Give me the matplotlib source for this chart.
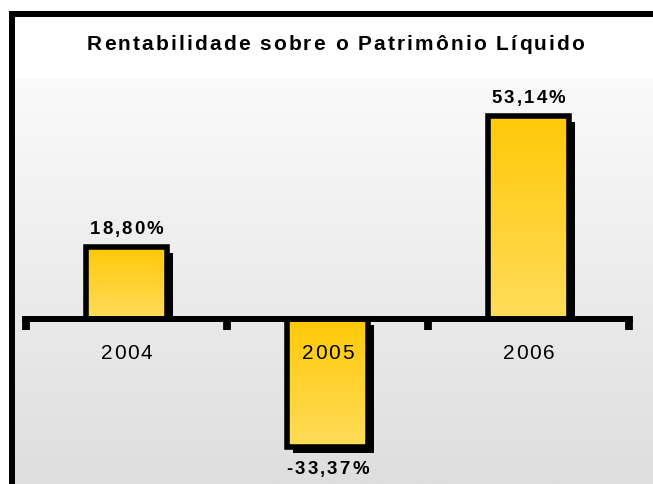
import numpy as np
import matplotlib
matplotlib.use("Agg")
import matplotlib.pyplot as plt
from matplotlib.colors import LinearSegmentedColormap
from matplotlib.font_manager import FontProperties
from matplotlib.lines import Line2D

plt.rcParams['font.family'] = ['Liberation Sans', 'DejaVu Sans']

# Return on equity per year (%)
years = ['2004', '2005', '2006']
values = [18.80, -33.37, 53.14]

W, H = 653, 485
fig = plt.figure(figsize=(W / 100, H / 100), dpi=100)
fig.patch.set_facecolor('white')
renderer = fig.canvas.get_renderer()


def spaced_text(x_px, y_px, s, size, weight='normal', track=2.0):
    # text centred on x_px with baseline at y_px (pixels from top), extra letter spacing
    fp = FontProperties(family=['Liberation Sans', 'DejaVu Sans'], size=size, weight=weight)

    def width(t):
        return renderer.get_text_width_height_descent(t, fp, ismath=False)[0]

    bar_w = width('|')
    pos = [0.0] + [width(s[:i] + '|') - bar_w for i in range(1, len(s))]
    total = width(s) + track * (len(s) - 1)
    x0 = x_px - total / 2
    for i, ch in enumerate(s):
        if ch == ' ':
            continue
        fig.text((x0 + pos[i] + i * track) / W, 1 - y_px / H, ch, fontproperties=fp,
                 ha='left', va='baseline', zorder=6)


# plot area in pixels: x 15..653, y 80..485 (from top)
ax = fig.add_axes([15 / W, 0, (W - 15) / W, (H - 80) / H])
ax.set_xlim(-0.5547, 2.6194)
ax.set_ylim(-43.1, 62.7)
ax.axis('off')

# background gradient (light at top, grey at bottom)
bg = np.linspace(0, 1, 256).reshape(-1, 1)
bg_cmap = LinearSegmentedColormap.from_list('bg', ['#fafafa', '#dedede'])
ax.imshow(bg, cmap=bg_cmap, extent=[0, 1, 0, 1], transform=ax.transAxes,
          aspect='auto', zorder=0)

x = np.arange(len(years))
width = 0.406
bar_cmap = LinearSegmentedColormap.from_list('bar', ['#ffc908', '#ffdc5a'])
grad = np.linspace(0, 1, 256).reshape(-1, 1)

# drop shadow: shifted right/down, cut at the zero line for positive bars
dx, dy = 0.03, 1.6
for xi, v in zip(x, values):
    if v >= 0:
        ax.bar(xi + dx, v - dy, bottom=0, width=width, color='black', linewidth=0, zorder=2)
    else:
        ax.bar(xi + dx, v, bottom=-dy, width=width, color='black', linewidth=0, zorder=2)

# gradient fill
for xi, v in zip(x, values):
    top, bot = max(v, 0), min(v, 0)
    ax.imshow(grad, cmap=bar_cmap, extent=[xi - width / 2, xi + width / 2, bot, top],
              aspect='auto', zorder=2.5)
# outline
ax.bar(x, values, width=width, color='none', edgecolor='black', linewidth=4.0, zorder=3)

# zero axis with category ticks
ax.plot([-0.518, 2.518], [0, 0], color='black', lw=4.3, solid_capstyle='butt', zorder=4)
ax.vlines([-0.5, 0.5, 1.5, 2.5], -2.8, 0, color='black', lw=5.6, zorder=4)

to_px = lambda px, py: ax.transData.transform((px, py))

for xi, lab in zip(x, years):
    px, _ = to_px(xi, 0)
    spaced_text(px, 359, lab, 15, track=1.7)

for xi, v in zip(x, values):
    lab = f"{v:.2f}".replace('.', ',') + '%'
    px, py = to_px(xi, v)
    py = H - py
    if v >= 0:
        spaced_text(px, py - 14, lab, 13.4, weight='bold', track=2.2)
    else:
        spaced_text(px, py + 26, lab, 13.4, weight='bold', track=2.2)

spaced_text(335.5, 50, 'Rentabilidade sobre o Patrimônio Líquido', 15, weight='bold', track=2.1)

# outer frame (top and left)
fig.add_artist(Line2D([12 / W, 1], [1 - 14.5 / H, 1 - 14.5 / H], color='black', lw=4.3,
                      solid_capstyle='butt'))
fig.add_artist(Line2D([12 / W, 12 / W], [0, 1 - 12 / H], color='black', lw=4.3,
                      solid_capstyle='butt'))

fig.savefig('out.png', dpi=100)
